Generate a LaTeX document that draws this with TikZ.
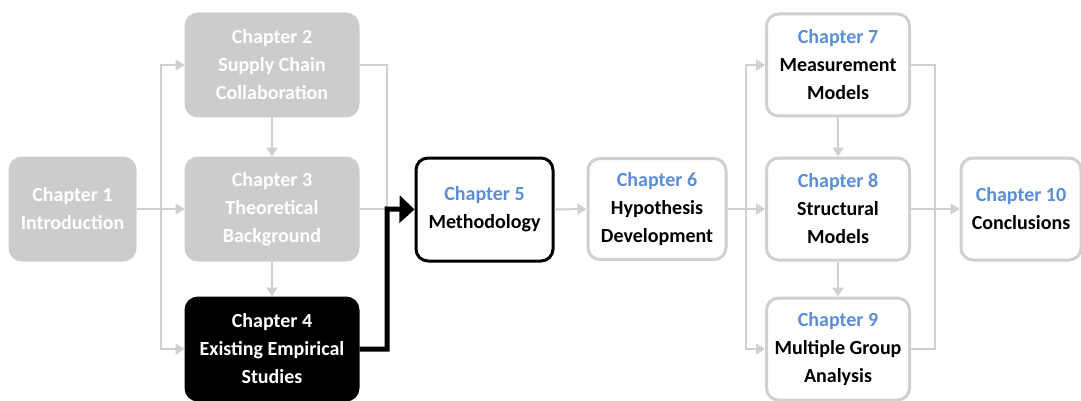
\documentclass[tikz,border=0pt]{standalone}
\usepackage{fontspec}
\setmainfont{Carlito}
\usetikzlibrary{arrows.meta}
\definecolor{softgray}{HTML}{CCCCCC}
\definecolor{edgegray}{HTML}{D0D0D0}
\definecolor{chapblue}{HTML}{5B8ED6}
\begin{document}
\begin{tikzpicture}[x=1pt,y=-1pt,
  box/.style={rounded corners=12pt,line width=3pt,align=center,
    font=\fontsize{20}{28}\selectfont\bfseries,inner sep=0pt},
  past/.style={box,fill=softgray,draw=softgray,text=white},
  focus/.style={box,fill=black,draw=black,text=white},
  current/.style={box,fill=white,draw=black},
  future/.style={box,fill=white,draw=edgegray},
  link/.style={draw=edgegray,line width=2pt,-{Triangle[length=9pt,width=11pt]}},
  plain/.style={draw=edgegray,line width=2pt},
  main/.style={draw=black,line width=5pt,-{Triangle[length=15pt,width=27pt]}}]
\useasboundingbox (0,0) rectangle (1081,401);
% chapters
\node[past,minimum width=125pt,minimum height=102pt] (c1) at (72.5,209) {Chapter 1\\Introduction};
\node[past,minimum width=172pt,minimum height=102pt] (c2) at (272,65) {Chapter 2\\Supply Chain\\Collaboration};
\node[past,minimum width=172pt,minimum height=102pt] (c3) at (272,209) {Chapter 3\\Theoretical\\Background};
\node[focus,minimum width=172pt,minimum height=102pt] (c4) at (272,349) {Chapter 4\\Existing Empirical\\Studies};
\node[current,minimum width=137pt,minimum height=103pt] (c5) at (484.5,209.5) {\textcolor{chapblue}{Chapter 5}\\Methodology};
\node[future,minimum width=138pt,minimum height=101pt] (c6) at (657,209) {\textcolor{chapblue}{Chapter 6}\\Hypothesis\\Development};
\node[future,minimum width=143pt,minimum height=102pt] (c7) at (838,65) {\textcolor{chapblue}{Chapter 7}\\Measurement\\Models};
\node[future,minimum width=143pt,minimum height=102pt] (c8) at (838,209) {\textcolor{chapblue}{Chapter 8}\\Structural\\Models};
\node[future,minimum width=143pt,minimum height=102pt] (c9) at (838,349) {\textcolor{chapblue}{Chapter 9}\\Multiple Group\\Analysis};
\node[future,minimum width=120pt,minimum height=102pt] (c10) at (1021,209) {\textcolor{chapblue}{Chapter 10}\\Conclusions};
% junction points
\coordinate (ja) at (161,209);
\coordinate (jb) at (387,209);
\coordinate (jc) at (746,209);
\coordinate (jd) at (935,209);
% literature review block
\draw[plain] (c1.east) -- (ja);
\draw[link] (ja) -- (c3.west);
\draw[link] (ja) |- (c2.west);
\draw[link] (ja) |- (c4.west);
\draw[link] (c2.south) -- (c3.north);
\draw[link] (c3.south) -- (c4.north);
\draw[plain] (c2.east) -| (jb);
\draw[plain] (c3.east) -- (jb);
\draw[main] (c4.east) -| (jb) -- (c5.west);
% empirical block
\draw[link] (c5.east) -- (c6.west);
\draw[plain] (c6.east) -- (jc);
\draw[link] (jc) -- (c8.west);
\draw[link] (jc) |- (c7.west);
\draw[link] (jc) |- (c9.west);
\draw[link] (c7.south) -- (c8.north);
\draw[link] (c8.south) -- (c9.north);
\draw[plain] (c7.east) -| (jd);
\draw[plain] (c9.east) -| (jd);
\draw[link] (c8.east) -- (c10.west);
\end{tikzpicture}
\end{document}
